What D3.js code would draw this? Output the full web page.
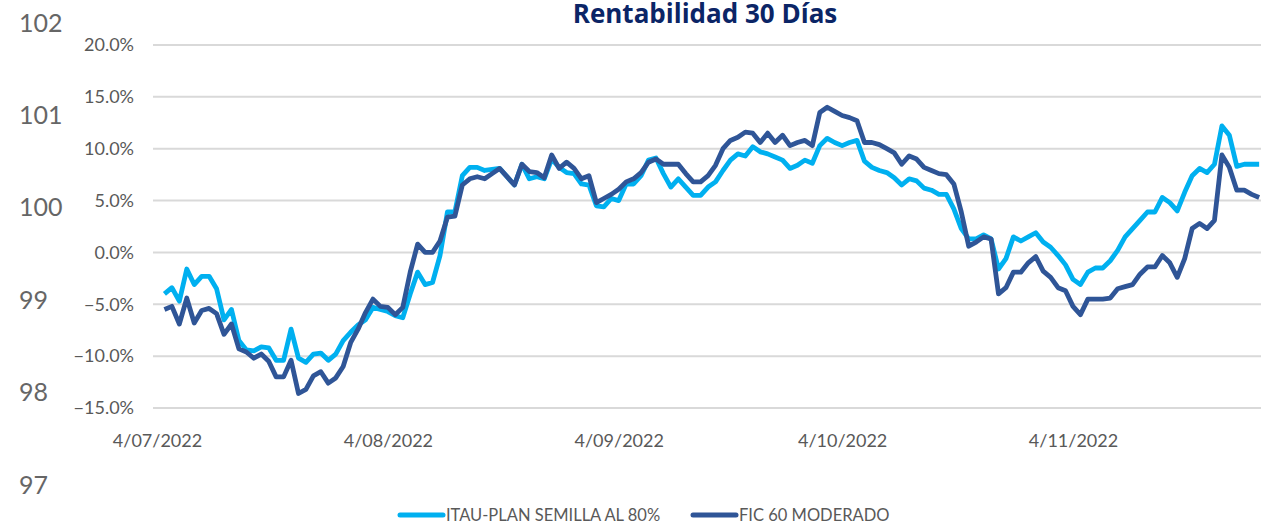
<!DOCTYPE html>
<meta charset="utf-8">
<title>Rentabilidad 30 Días</title>
<style type="text/css">
  body {margin:0; background:#fff;}
  text {font-family: Lato, "Open Sans", sans-serif;}
</style>
<body>
<script src="https://d3js.org/d3.v7.min.js"></script>
<div id="chart"></div>
<script>
// daily values, first point is 5/07/2022
var startDate = new Date(2022, 6, 5);
var seriesNames = ["ITAU-PLAN SEMILLA AL 80%", "FIC 60 MODERADO"];
var seriesColors = ["#00B0F0", "#2F5597"];

var itau = [
  -4.0, -3.4, -4.7, -1.6, -3.1, -2.3, -2.3, -3.5, -6.5, -5.5, -8.5, -9.4, -9.5, -9.1, -9.2, -10.4, -10.4, -7.4, -10.2, -10.6,
  -9.8, -9.7, -10.4, -9.8, -8.5, -7.7, -7.0, -6.5, -5.3, -5.5, -5.7, -6.1, -6.3, -4.0, -1.9, -3.1, -2.9, -0.3, 3.9, 3.9,
  7.4, 8.2, 8.2, 7.9, 8.0, 8.1, 7.3, 6.5, 8.5, 7.1, 7.3, 7.1, 9.0, 8.2, 7.7, 7.6, 6.6, 6.5, 4.5, 4.4,
  5.2, 5.0, 6.6, 6.6, 7.4, 8.9, 9.1, 7.6, 6.3, 7.1, 6.3, 5.5, 5.5, 6.3, 6.8, 7.9, 8.9, 9.5, 9.3, 10.2,
  9.7, 9.5, 9.2, 8.9, 8.1, 8.4, 8.9, 8.6, 10.3, 11.0, 10.6, 10.3, 10.6, 10.8, 8.8, 8.2, 7.9, 7.7, 7.2, 6.5,
  7.1, 6.9, 6.2, 6.0, 5.6, 5.6, 4.2, 2.3, 1.3, 1.3, 1.7, 1.3, -1.6, -0.6, 1.5, 1.1, 1.5, 1.9, 1.0, 0.5,
  -0.3, -1.2, -2.6, -3.1, -1.9, -1.5, -1.5, -0.8, 0.2, 1.5, 2.3, 3.1, 3.9, 3.9, 5.3, 4.8, 4.0, 5.8, 7.4, 8.1,
  7.7, 8.5, 12.2, 11.3, 8.3, 8.5, 8.5, 8.5
];

var fic = [
  -5.5, -5.2, -6.9, -4.4, -6.8, -5.6, -5.4, -5.9, -7.9, -6.9, -9.3, -9.6, -10.2, -9.8, -10.5, -12.0, -12.0, -10.4, -13.6, -13.2,
  -11.9, -11.5, -12.6, -12.1, -11.0, -8.7, -7.4, -5.8, -4.5, -5.2, -5.3, -6.0, -5.3, -1.9, 0.8, 0.0, 0.0, 1.1, 3.4, 3.5,
  6.5, 7.1, 7.3, 7.1, 7.6, 8.1, 7.3, 6.5, 8.5, 7.8, 7.7, 7.2, 9.4, 8.1, 8.7, 8.1, 7.1, 7.4, 4.8, 5.2,
  5.6, 6.1, 6.8, 7.1, 7.7, 8.7, 9.0, 8.5, 8.5, 8.5, 7.6, 6.8, 6.8, 7.4, 8.4, 10.0, 10.8, 11.1, 11.6, 11.5,
  10.6, 11.5, 10.6, 11.3, 10.3, 10.6, 10.8, 10.3, 13.5, 14.0, 13.6, 13.2, 13.0, 12.7, 10.6, 10.6, 10.4, 10.0, 9.6, 8.5,
  9.3, 9.0, 8.2, 7.9, 7.6, 7.5, 6.6, 3.9, 0.6, 1.0, 1.5, 1.3, -4.0, -3.4, -1.9, -1.9, -1.0, -0.4, -1.8, -2.4,
  -3.4, -3.7, -5.2, -6.0, -4.5, -4.5, -4.5, -4.4, -3.5, -3.3, -3.1, -2.1, -1.4, -1.4, -0.3, -1.0, -2.4, -0.6, 2.3, 2.8,
  2.3, 3.1, 9.4, 8.2, 6.0, 6.0, 5.6, 5.3
];

var yTicks = [-15, -10, -5, 0, 5, 10, 15, 20];
var leftTicks = [97, 98, 99, 100, 101, 102];
var xTicks = [new Date(2022, 6, 4), new Date(2022, 7, 4), new Date(2022, 8, 4), new Date(2022, 9, 4), new Date(2022, 10, 4)];

var width = 1261, height = 526;

var svg = d3.select("#chart")
  .append("svg")
    .attr("width", width)
    .attr("height", height);

// scales
var x = d3.scaleTime()
  .domain([new Date(2022, 6, 4), new Date(2022, 10, 30)])
  .range([157, 157 + 149 * 7.447]);
var y = d3.scaleLinear()
  .domain([-15, 20])
  .range([408, 45]);
var yLeft = d3.scaleLinear()
  .domain([97, 102])
  .range([485, 23]);

// gridlines
svg.append("g")
  .selectAll("line")
  .data(yTicks)
  .enter()
  .append("line")
    .attr("x1", 153)
    .attr("x2", width)
    .attr("y1", function(d) { return y(d); })
    .attr("y2", function(d) { return y(d); })
    .attr("stroke", "#D9D9D9")
    .attr("stroke-width", 2);

// percent axis
var yAxis = svg.append("g")
  .attr("transform", "translate(134,0)")
  .call(d3.axisLeft(y).tickValues(yTicks).tickSize(0).tickPadding(0)
    .tickFormat(function(d) { return d3.format(".1f")(d) + "%"; }));
yAxis.select(".domain").remove();
yAxis.selectAll("text")
  .attr("fill", "#595959")
  .style("font-size", "18px");

// the stray index axis on the far left
var leftAxis = svg.append("g")
  .attr("transform", "translate(19,0)")
  .call(d3.axisRight(yLeft).tickValues(leftTicks).tickSize(0).tickPadding(0)
    .tickFormat(d3.format("d")));
leftAxis.select(".domain").remove();
leftAxis.selectAll("text")
  .attr("fill", "#666666")
  .style("font-size", "25px");

// date axis
var xAxis = svg.append("g")
  .attr("transform", "translate(0,434)")
  .call(d3.axisBottom(x).tickValues(xTicks).tickSize(0).tickPadding(0)
    .tickFormat(d3.timeFormat("%-d/%m/%Y")));
xAxis.select(".domain").remove();
xAxis.selectAll("text")
  .attr("fill", "#595959")
  .style("font-size", "18px");

// lines
var series = [itau, fic];
var line = d3.line()
  .x(function(d, i) { return x(d3.timeDay.offset(startDate, i)); })
  .y(function(d) { return y(d); });

svg.append("g")
  .selectAll("path")
  .data(series)
  .enter()
  .append("path")
    .attr("d", function(d) { return line(d); })
    .attr("fill", "none")
    .attr("stroke", function(d, i) { return seriesColors[i]; })
    .attr("stroke-width", 4.8)
    .attr("stroke-linejoin", "round");

// title
svg.append("text")
  .attr("x", 705)
  .attr("y", 23)
  .attr("text-anchor", "middle")
  .attr("fill", "#0B2566")
  .style("font-family", "'Open Sans', sans-serif")
  .style("font-size", "26px")
  .style("font-weight", "bold")
  .text("Rentabilidad 30 Días");

// legend
var legendX = [400, 693];
var legend = svg.append("g")
  .selectAll("g")
  .data(seriesNames)
  .enter()
  .append("g")
    .attr("transform", function(d, i) { return "translate(" + legendX[i] + ",515)"; });
legend.append("line")
  .attr("x1", 0).attr("x2", 43)
  .attr("stroke", function(d, i) { return seriesColors[i]; })
  .attr("stroke-width", 5)
  .attr("stroke-linecap", "round");
legend.append("text")
  .attr("x", 46)
  .attr("dy", "0.35em")
  .attr("fill", "#595959")
  .style("font-size", "16.5px")
  .text(function(d) { return d; });
</script>
</body>
